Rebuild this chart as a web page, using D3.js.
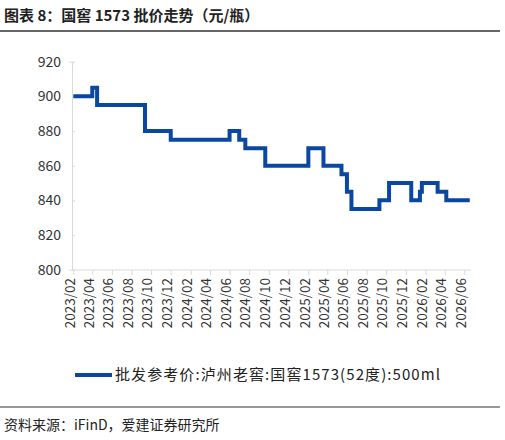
<!DOCTYPE html><html><head><meta charset="utf-8">
<script src="https://cdn.jsdelivr.net/npm/d3@7"></script>
<style>body{margin:0;background:#fff}text{font-family:"Noto Sans CJK SC","Noto Sans",sans-serif}</style></head><body>
<svg id="c" width="505" height="440"></svg>
<script>
const dates=["2023-02-01","2023-04-01","2023-04-16","2023-09-12","2023-12-01","2024-06-01","2024-07-01","2024-07-20","2024-09-20","2025-02-01","2025-03-20","2025-05-15","2025-06-01","2025-06-15","2025-09-10","2025-10-10","2025-12-18","2026-01-14","2026-01-20","2026-03-10","2026-04-06","2026-06-18"];
const prices=[900,905,895,880,875,880,875,870,860,870,860,855,845,835,840,850,840,845,850,845,840,840];
const yTicks=[800,820,840,860,880,900,920];
const seriesName="批发参考价:泸州老窖:国窖1573(52度):500ml";
const svg=d3.select("#c");
const p=d3.timeParse("%Y-%m-%d");
const data=dates.map((d,i)=>({d:p(d),v:prices[i]}));
const x=d3.scaleTime().domain([p("2023-02-01"),p("2026-06-01")]).range([73.3,464.3]);
const y=d3.scaleLinear().domain([800,920]).range([269.7,61.7]);
svg.append("text").attr("x",4).attr("y",21).attr("font-size",15).attr("font-weight","bold").attr("fill","#222").text("图表 8：国窖 1573 批价走势（元/瓶）");
svg.append("line").attr("x1",0).attr("x2",500).attr("y1",31).attr("y2",31).attr("stroke","#333").attr("stroke-width",1.5);
svg.append("line").attr("x1",0).attr("x2",500).attr("y1",407).attr("y2",407).attr("stroke","#333").attr("stroke-width",1);
svg.append("text").attr("x",4).attr("y",430).attr("font-size",14).attr("fill","#222").text("资料来源：iFinD，爱建证券研究所");
const ya=svg.append("g").attr("transform","translate(72,0)").call(d3.axisLeft(y).tickValues(yTicks).tickSize(3).tickFormat(d3.format("d")));
ya.select(".domain").attr("stroke","#d9d9d9");ya.selectAll(".tick line").attr("stroke","#d9d9d9").attr("transform","translate(3,0)");
ya.selectAll("text").attr("font-size",14).attr("fill","#333").attr("font-family","Liberation Sans,Arial").attr("dx",-5);
const xt=d3.timeMonth.range(p("2023-02-01"),p("2026-06-02"),2);
const xa=svg.append("g").attr("transform","translate(0,270)").call(d3.axisBottom(x).tickValues(xt).tickSize(5).tickFormat(d3.timeFormat("%Y/%m")));
xa.select(".domain").attr("stroke","#d9d9d9").attr("d","M72,0H471");xa.selectAll(".tick line").attr("stroke","#d9d9d9");
xa.selectAll("text").attr("font-size",13.5).attr("fill","#333").attr("font-family","Liberation Sans,Arial").attr("transform","rotate(-90)").attr("text-anchor","end").attr("x",-8).attr("y",-4).attr("dy","0.35em");
const line=d3.line().x(d=>x(d.d)).y(d=>y(d.v)).curve(d3.curveStepAfter);
svg.append("path").datum(data).attr("d",line).attr("fill","none").attr("stroke","#0a47a3").attr("stroke-width",4);
svg.append("line").attr("x1",75).attr("x2",112).attr("y1",375).attr("y2",375).attr("stroke","#0a47a3").attr("stroke-width",4);
svg.append("text").attr("x",115).attr("y",380).attr("font-size",15).attr("fill","#222").attr("textLength",325).text(seriesName);
</script></body></html>
